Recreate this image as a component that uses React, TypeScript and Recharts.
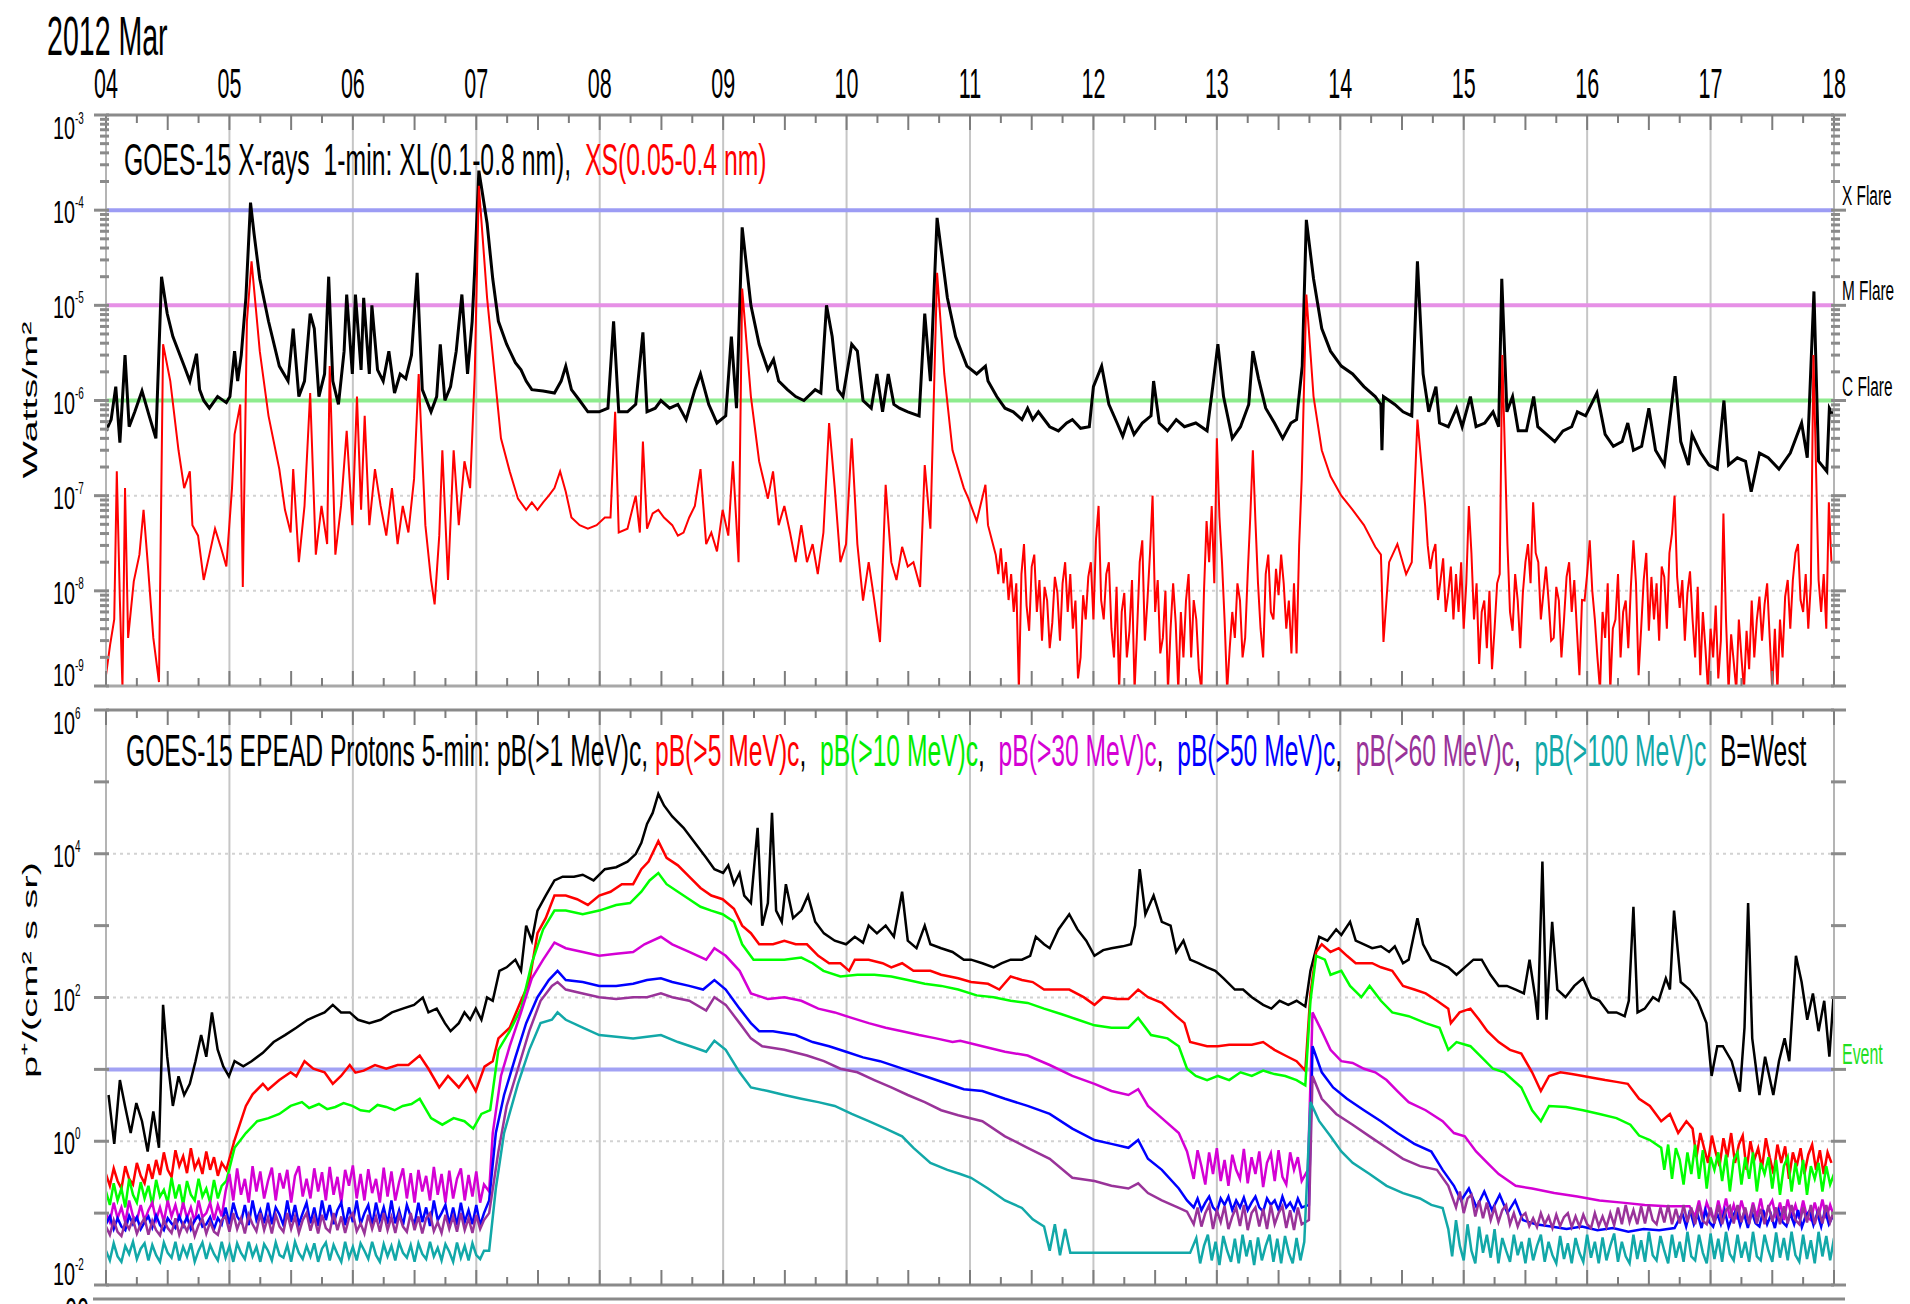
import React from "react";
import { LineChart, Line, XAxis, YAxis, ReferenceLine } from "recharts";

// hours since 2012-03-04 00:00 UT
const dayLabels = ["04", "05", "06", "07", "08", "09", "10", "11", "12", "13", "14", "15", "16", "17", "18"];

// evenly sampled stretch of readings: [start hour, step in hours, values]
const run = (start: number, step: number, values: number[]) =>
  values.map((v, i) => [+(start + i * step).toFixed(2), v]);

// GOES-15 X-ray flux, W/m^2  [hour, value]
const xlLong: number[][] = [
  [0, 4.8e-7], [1, 6.3e-7], [1.9, 1.4e-6], [2.7, 3.6e-7], [3.7, 3.0e-6], [4.5, 5.3e-7], [5.6, 7.6e-7], [7, 1.26e-6], [8.4, 6.9e-7], [9.7, 4.0e-7],
  [10.8, 2.0e-5], [11.9, 8.2e-6], [13, 4.7e-6], [15.2, 2.3e-6], [16.3, 1.6e-6], [17.6, 3.1e-6], [18.2, 1.3e-6], [19, 1.0e-6], [20.1, 8.3e-7], [21.7, 1.1e-6],
  [23.4, 9.5e-7], [24.1, 1.1e-6], [25, 3.3e-6], [25.6, 1.6e-6], [26.3, 3.0e-6], [27.2, 1.2e-5], [28.1, 1.2e-4], [28.8, 5.6e-5], [29.9, 1.9e-5], [31.6, 6.8e-6],
  [33.7, 2.3e-6], [35.4, 1.6e-6], [36.4, 5.7e-6], [37.5, 1.1e-6], [38.6, 1.6e-6], [39.7, 8.2e-6], [40.5, 5.7e-6], [41.4, 1.1e-6], [42.5, 1.9e-6], [43.3, 2.0e-5],
  [44.1, 1.6e-6], [45.2, 9.1e-7], [46.3, 3.3e-6], [46.8, 1.3e-5], [47.9, 1.9e-6], [48.5, 1.3e-5], [49.6, 2.1e-6], [50.1, 1.2e-5], [51.2, 1.9e-6], [51.7, 1.0e-5],
  [52.8, 2.1e-6], [53.9, 1.6e-6], [55, 3.3e-6], [56.1, 1.2e-6], [57.2, 1.9e-6], [58.3, 1.7e-6], [59.4, 3.0e-6], [60.5, 2.2e-5], [61.5, 1.3e-6], [63.2, 7.6e-7],
  [64.3, 1.1e-6], [65, 3.9e-6], [65.9, 1.0e-6], [67, 1.4e-6], [68.1, 3.3e-6], [69.2, 1.3e-5], [70.3, 1.9e-6], [71.2, 6.8e-6], [71.7, 2.4e-5], [72.5, 2.6e-4],
  [73.2, 1.5e-4], [74.1, 7.3e-5], [75.2, 1.9e-5], [76.3, 6.8e-6], [77.9, 3.9e-6], [79.6, 2.5e-6], [80.7, 2.1e-6], [81.7, 1.6e-6], [82.8, 1.3e-6], [85, 1.26e-6],
  [87.2, 1.2e-6], [88.5, 1.6e-6], [89.4, 2.3e-6], [90.5, 1.3e-6], [92.1, 1.0e-6], [93.7, 7.6e-7], [95.9, 7.6e-7], [97.6, 8.3e-7], [98.7, 6.8e-6], [99.7, 7.6e-7],
  [101.4, 7.6e-7], [103, 9.1e-7], [104.4, 5.2e-6], [105.2, 7.6e-7], [106.8, 8.3e-7], [107.9, 1.0e-6], [109.6, 8.3e-7], [111.2, 9.1e-7], [112.8, 6.3e-7], [114.5, 1.3e-6],
  [115.6, 1.9e-6], [117.2, 9.1e-7], [118.8, 5.8e-7], [120.5, 6.9e-7], [121.6, 4.7e-6], [122.6, 8.3e-7], [123.7, 6.6e-5], [125.4, 1.0e-5], [127, 3.9e-6], [128.7, 2.1e-6],
  [129.8, 2.7e-6], [130.8, 1.6e-6], [132.5, 1.3e-6], [134.1, 1.1e-6], [135.7, 1.0e-6], [137.9, 1.3e-6], [139, 1.2e-6], [140.1, 1.0e-5], [141.2, 4.7e-6], [142.3, 1.3e-6],
  [143.3, 1.1e-6], [145, 3.9e-6], [146.1, 3.3e-6], [147.2, 1.0e-6], [148.8, 8.3e-7], [149.9, 1.9e-6], [151, 7.6e-7], [152.1, 1.9e-6], [153.2, 9.1e-7], [154.3, 8.3e-7],
  [155.9, 7.6e-7], [158.1, 6.9e-7], [159.2, 8.2e-6], [160.3, 1.6e-6], [161.6, 8.3e-5], [163.6, 1.2e-5], [165.2, 4.7e-6], [167.4, 2.3e-6], [169.3, 1.9e-6], [171, 2.3e-6],
  [171.5, 1.6e-6], [173.2, 1.1e-6], [174.8, 8.3e-7], [176.4, 7.6e-7], [178.1, 6.3e-7], [179.2, 8.3e-7], [180.2, 6.3e-7], [181.3, 7.6e-7], [183.5, 5.3e-7], [185.2, 4.8e-7],
  [186.8, 5.8e-7], [187.9, 6.3e-7], [189.5, 5.1e-7], [191.2, 5.3e-7], [192, 1.4e-6], [193.6, 2.3e-6], [195, 9.1e-7], [196.6, 5.8e-7], [197.7, 4.2e-7], [198.8, 6.3e-7],
  [199.9, 4.4e-7], [201.5, 5.8e-7], [203.2, 6.9e-7], [203.7, 1.6e-6], [204.8, 5.8e-7], [206.4, 4.8e-7], [208.1, 6.3e-7], [209.7, 5.3e-7], [211.9, 5.8e-7], [214.1, 4.8e-7],
  [215.2, 1.4e-6], [216.2, 3.9e-6], [217.3, 1.1e-6], [219, 4.0e-7], [220.6, 5.3e-7], [222.2, 9.1e-7], [223, 3.3e-6], [224.1, 1.7e-6], [225.5, 8.3e-7], [227.2, 5.8e-7],
  [228.8, 4.0e-7], [230.4, 5.8e-7], [231.5, 6.3e-7], [232.6, 2.3e-6], [233.4, 7.9e-5], [234.8, 1.9e-5], [236.4, 5.7e-6], [238.1, 3.3e-6], [240.2, 2.3e-6], [242.4, 1.9e-6],
  [244.6, 1.4e-6], [246.8, 1.1e-6], [247.9, 9.1e-7], [248.1, 3.0e-7], [248.4, 1.1e-6], [250.6, 9.1e-7], [252.2, 7.6e-7], [253.9, 6.9e-7], [255, 2.9e-5], [256.1, 1.9e-6],
  [257.2, 7.6e-7], [258.6, 1.4e-6], [259.3, 5.8e-7], [261, 5.3e-7], [262.6, 8.3e-7], [263.7, 5.3e-7], [265.3, 1.1e-6], [266.4, 5.3e-7], [268.1, 5.8e-7], [269.7, 7.6e-7],
  [270.8, 5.3e-7], [271.4, 1.9e-5], [272.4, 7.6e-7], [273.5, 1.1e-6], [274.6, 4.8e-7], [276.2, 4.8e-7], [277.6, 1.1e-6], [278.4, 5.3e-7], [280.1, 4.4e-7], [281.7, 3.7e-7],
  [283.3, 4.8e-7], [285, 5.3e-7], [286.1, 7.6e-7], [287.7, 6.9e-7], [289.9, 1.2e-6], [291.5, 4.4e-7], [293.1, 3.3e-7], [294.8, 3.7e-7], [295.9, 5.8e-7], [297, 3.0e-7],
  [298.6, 3.3e-7], [300, 8.3e-7], [301.3, 3.0e-7], [303, 2.1e-7], [305.1, 1.8e-6], [306.2, 3.7e-7], [307.7, 2.1e-7], [308.4, 4.4e-7], [310.1, 2.8e-7], [311.7, 2.1e-7],
  [313.3, 1.9e-7], [314.6, 1.0e-6], [315.5, 2.1e-7], [317.2, 2.5e-7], [318.8, 2.3e-7], [319.9, 1.1e-7], [321.5, 2.8e-7], [323.2, 2.5e-7], [325.3, 1.9e-7], [327.5, 2.8e-7],
  [329.7, 5.8e-7], [330.8, 2.5e-7], [332.1, 1.4e-5], [333, 2.3e-7], [334.6, 1.8e-7], [335.1, 8.3e-7], [335.9, 6.9e-7],
];

const xsShort: number[][] = [
  [0, 1.3e-9], [0.8, 2.7e-9], [1.6, 5.0e-9], [2.1, 1.8e-7], [2.7, 7.9e-9], [3.2, 9.7e-10], [3.7, 1.2e-7], [4.3, 3.2e-9], [5.4, 1.26e-8], [6.5, 2.4e-8],
  [7.3, 7.1e-8], [8.1, 2.0e-8], [9.2, 3.2e-9], [10.3, 1.1e-9], [11.1, 3.9e-6], [12.5, 1.6e-6], [14.1, 3.0e-7], [15.2, 1.2e-7], [16.3, 1.8e-7], [16.8, 4.9e-8],
  [17.9, 3.8e-8], [19, 1.3e-8], [20.1, 2.4e-8], [21.2, 4.5e-8], [22.3, 2.9e-8], [23.4, 1.8e-8], [24.5, 1.2e-7], [25, 4.4e-7], [26.1, 9.1e-7], [26.6, 1.1e-8],
  [27.4, 6.8e-6], [28.3, 2.9e-5], [29.9, 3.3e-6], [31.6, 6.9e-7], [33.7, 1.9e-7], [34.8, 7.1e-8], [35.9, 4.1e-8], [36.4, 1.9e-7], [37.5, 2.0e-8], [38.6, 7.8e-8],
  [39.7, 1.2e-6], [40.8, 2.4e-8], [41.9, 7.8e-8], [43, 3.1e-8], [43.5, 2.3e-6], [44.6, 2.4e-8], [45.7, 7.8e-8], [46.8, 4.8e-7], [47.9, 4.9e-8], [48.8, 1.1e-6],
  [49.6, 7.1e-8], [50.3, 6.9e-7], [51.2, 4.9e-8], [52.3, 1.9e-7], [53.4, 7.8e-8], [54.5, 3.8e-8], [55.6, 1.2e-7], [56.7, 3.1e-8], [57.7, 7.8e-8], [58.8, 4.1e-8],
  [59.9, 1.5e-7], [60.8, 1.9e-6], [62.1, 4.9e-8], [63.2, 1.3e-8], [63.9, 7.2e-9], [64.8, 3.8e-8], [65.4, 3.0e-7], [66.5, 1.3e-8], [67.6, 3.0e-7], [68.6, 4.9e-8],
  [69.7, 2.3e-7], [70.8, 1.2e-7], [71.7, 1.9e-6], [72.5, 1.8e-4], [74.1, 1.2e-5], [75.2, 3.0e-6], [76.8, 4.0e-7], [78.5, 1.8e-7], [80.1, 9.3e-8], [81.7, 7.1e-8],
  [82.8, 8.5e-8], [83.9, 7.1e-8], [85, 8.5e-8], [86.1, 1.0e-7], [87.2, 1.2e-7], [88.3, 1.8e-7], [89.4, 1.1e-7], [90.5, 5.9e-8], [92.1, 4.9e-8], [93.7, 4.5e-8],
  [95.4, 4.9e-8], [97, 5.9e-8], [98.1, 5.9e-8], [99, 7.6e-7], [99.7, 4.1e-8], [101.4, 4.5e-8], [103, 1.0e-7], [103.8, 4.1e-8], [104.4, 3.7e-7], [105.2, 4.5e-8],
  [106.3, 6.5e-8], [107.4, 7.1e-8], [108.5, 5.9e-8], [110.1, 4.9e-8], [111.2, 3.8e-8], [112.3, 4.1e-8], [113.4, 5.9e-8], [114.5, 7.8e-8], [115.6, 1.9e-7], [116.7, 3.1e-8],
  [117.7, 4.1e-8], [118.8, 2.6e-8], [119.9, 7.1e-8], [121, 3.8e-8], [121.9, 2.3e-7], [123, 2.0e-8], [123.7, 1.5e-5], [125.4, 1.1e-6], [127, 2.3e-7], [128.7, 9.3e-8],
  [129.7, 1.8e-7], [130.8, 4.9e-8], [131.9, 7.8e-8], [133, 4.1e-8], [134.1, 2.0e-8], [135.2, 4.9e-8], [136.3, 2.0e-8], [137.4, 3.1e-8], [138.4, 1.5e-8], [139.5, 4.1e-8],
  [140.6, 5.8e-7], [141.7, 1.2e-7], [142.8, 2.0e-8], [143.9, 3.1e-8], [145, 4.0e-7], [146.1, 3.1e-8], [147.2, 7.9e-9], [148.3, 2.0e-8], [149.4, 7.9e-9], [150.5, 2.9e-9],
  [151.6, 1.3e-7], [152.7, 2.0e-8], [153.7, 1.3e-8], [154.8, 2.9e-8], [155.9, 1.8e-8], [157, 2.0e-8], [158.3, 1.1e-8], [159.2, 2.1e-7], [160.3, 4.5e-8], [161.6, 2.2e-5],
  [163, 1.9e-6], [164.6, 3.0e-7], [166.8, 1.2e-7], [167.7, 9.3e-8], [169.3, 5.4e-8], [171, 1.3e-7], [171.5, 4.9e-8],
  ...run(173, 0.5, [
    2.4e-8, 1.5e-8, 2.8e-8, 1.2e-8, 2.0e-8, 8e-9, 1.5e-8, 6e-9, 1.2e-8, 9e-10,
    1.5e-8, 3.1e-8, 7e-9, 3.8e-9, 1.8e-8, 2.4e-8, 6e-9, 1.3e-8, 3e-9, 1.1e-8,
    7.9e-9, 2.5e-9, 4.6e-9, 1.4e-8, 9.5e-9, 3e-9, 1.2e-8, 2.0e-8, 6e-9, 1.5e-8,
    4e-9, 7.9e-9, 1.2e-9, 2.0e-9, 9e-9, 5.0e-9, 1.4e-8, 2.0e-8, 5e-9, 3.5e-8,
    7.8e-8, 8e-9, 5.0e-9, 1.5e-8, 2.0e-8, 4e-9, 2.0e-9, 1.1e-8, 9e-10, 6e-9,
    9.5e-9, 2e-9, 3.8e-9, 1.3e-8, 9e-10, 4e-9, 2.0e-8, 3.4e-8, 3e-9, 7.9e-9,
    2.5e-8, 1.0e-7, 6e-9, 1.3e-8, 2.2e-9, 3.2e-9, 1.0e-8, 9e-10, 4e-9, 1.2e-8,
    4.6e-9, 9e-10, 6e-9, 2e-9, 7.9e-9, 1.5e-8, 2.0e-9, 8e-9, 5.0e-9, 1.5e-9,
    9e-10, 1e-8, 5.4e-8, 2e-8, 7.8e-8, 1.2e-8, 4.0e-7, 6e-8, 2.0e-8, 5e-9,
    9e-10, 2.5e-9, 6e-9, 3.2e-9, 1.2e-8, 7.9e-9, 2e-9, 3.2e-9, 1.5e-8, 6e-8,
    3.0e-7, 5.4e-8, 1.2e-8, 4e-9, 2.0e-9, 1.5e-8, 2.4e-8, 6e-9, 5.0e-9, 1.7e-8,
    9e-9, 2.4e-8, 1.2e-8, 4e-9, 7.9e-9, 2.2e-9, 1.2e-8, 2.2e-9, 3e-8, 1.5e-7,
  ]),
  [233.4, 1.3e-5], [234.8, 1.1e-6], [236.4, 3.0e-7], [238.1, 1.6e-7], [240.2, 1.0e-7], [242.4, 7.1e-8], [244.6, 4.9e-8], [246.8, 2.9e-8], [247.9, 2.4e-8], [248.4, 2.9e-9],
  [249.5, 2.0e-8], [251.1, 3.1e-8], [252.8, 1.5e-8], [253.9, 2.0e-8], [255, 6.3e-7],
  ...run(256.5, 0.5, [
    7.8e-8, 3e-8, 1.7e-8, 2.5e-8, 3.1e-8, 8e-9, 1.3e-8, 2.2e-8, 6e-9, 9.5e-9,
    1.8e-8, 5e-9, 1.5e-8, 6.0e-9, 2.0e-8, 4e-9, 1.2e-8, 7.8e-8, 2.5e-8, 5.0e-9,
    1.2e-8, 1.7e-9, 6e-9, 7.9e-9, 2.5e-9, 1.0e-8, 1.5e-9, 4e-9, 1.2e-8, 1.5e-8,
    3.0e-6, 3e-7, 3.1e-8, 6e-9, 3.8e-9, 1.5e-8, 7.9e-9, 2.5e-9, 9.5e-9, 2e-8,
    3.1e-8, 1.2e-8, 8.5e-8, 2.5e-8, 2.0e-8, 5e-9, 9.5e-9, 1.8e-8, 7.9e-9, 3e-9,
    3.2e-9, 1.1e-8, 7.9e-9, 2e-9, 5.0e-9, 1.4e-8, 2.0e-8, 6e-9, 1.3e-8, 4e-9,
    1.3e-9, 8e-9, 7.9e-9, 1.5e-8, 3.4e-8, 1e-8, 5.0e-9, 2e-9, 9e-10, 6e-9,
    3.2e-9, 1.2e-8, 9e-10, 4e-9, 5.0e-9, 1.5e-8, 2.0e-9, 6e-9, 7.9e-9, 2.5e-9,
    1.1e-8, 3.4e-8, 1.2e-8, 1.3e-9, 4e-9, 1.3e-8, 2.5e-8, 3.8e-9, 1.4e-8, 5e-9,
    1.2e-8, 3e-9, 1.8e-8, 1.4e-8, 4e-9, 2.5e-8, 4e-8, 1.0e-7, 1.4e-8, 6.6e-9,
    1.3e-8, 3e-9, 9.5e-9, 1.6e-8, 5.0e-9, 2e-9, 1.1e-8, 1.3e-9, 6e-9, 2.5e-9,
    9e-10, 4e-9, 2.0e-9, 7e-9, 1.2e-9, 3e-9, 6.5e-8, 5e-9, 9e-10, 3.5e-9,
    1.8e-9, 9e-10, 5e-9, 2.0e-9, 9e-10, 3.8e-9, 1.5e-9, 7.9e-9, 2e-9, 5e-9,
    8.7e-9, 3e-9, 7.2e-9, 1.2e-8, 3.2e-9, 9e-10, 4e-9, 9e-10, 5.0e-9, 2e-9,
    8.7e-9, 1.3e-8, 4e-9, 1.3e-8, 2.5e-8, 3.1e-8, 8e-9, 6.0e-9, 1.5e-8, 4e-9,
    1.2e-8, 3.0e-6, 2e-7, 1.3e-8, 6.0e-9, 1.5e-8, 4e-9, 8.5e-8, 2.0e-8,
  ]),
];

// GOES-15 EPEAD integral protons, p+/(cm^2 s sr)  [hour, value]
const pGt1: number[][] = [
  [0.5, 4.4], [1.6, 0.92], [2.7, 7.1], [3.7, 3.1], [4.8, 1.3], [5.9, 3.4], [7, 1.9], [8.1, 0.72], [9.2, 2.6], [10.3, 0.81],
  [11.1, 79], [11.9, 15], [13, 3.1], [14.1, 8.0], [15.2, 4.4], [16.3, 6.3], [17.4, 13], [18.5, 30], [19.5, 15], [20.6, 62],
  [21.7, 19], [22.8, 11], [23.9, 8.0], [25, 13], [26.7, 11], [28.3, 13], [30.5, 17], [32.6, 24], [34.8, 30], [37, 38],
  [39.2, 49], [40.8, 55], [42.5, 62], [44.1, 79], [45.7, 62], [47.4, 62], [49, 49], [51.2, 44], [53.4, 49], [55.6, 62],
  [57.7, 70], [59.9, 79], [61.6, 100], [62.7, 62], [64.3, 70], [65.9, 44], [67, 34], [68.6, 44], [69.7, 62], [70.8, 49],
  [71.9, 70], [73, 49], [74.1, 100], [75.2, 90], [76.5, 235], [77.9, 263], [79.6, 336], [80.7, 235], [81.7, 1000], [82.8, 617],
  [83.9, 1620], [85.5, 2620], [87.2, 4250], [88.8, 4790], [91, 4790], [92.7, 5100], [94.8, 4250], [97, 6100], [99.2, 6500], [101.4, 7770],
  [103, 9900], [104.1, 1.42e4], [105.2, 2.6e4], [106.3, 3.7e4], [107.4, 6.8e4], [108.5, 4.7e4], [110.1, 3.3e4], [112.3, 2.3e4], [114.5, 1.42e4], [116.7, 8800],
  [118.3, 6100], [120, 5400], [121, 6900], [122.1, 3770], [123.2, 5400], [124.1, 2620], [125.4, 2060], [126.7, 2.3e4], [127.6, 1000], [128.7, 2060],
  [129.5, 3.7e4], [130.3, 1620], [131.4, 1130], [132.2, 3770], [133.6, 1270], [135.2, 1620], [136.5, 2620], [137.9, 1130], [139.6, 780], [141.7, 617],
  [143.9, 550], [145.6, 700], [147.2, 580], [148.3, 1000], [149.9, 780], [151.6, 1000], [153.2, 700], [154.8, 2960], [155.9, 617], [157.6, 485],
  [159.2, 1000], [160.3, 550], [162.4, 485], [164.6, 430], [166.8, 336], [168.2, 336], [170.4, 300], [172.6, 263], [174.2, 300], [175.9, 336],
  [178.1, 336], [179.7, 380], [180.8, 700], [182.4, 550], [183.5, 485], [185.2, 885], [187.3, 1440], [188.9, 885], [190.6, 617], [192.2, 380],
  [193.9, 456], [195.5, 485], [197.7, 515], [199.3, 550], [200.1, 1000], [201, 6100], [202.1, 1440], [203.7, 2620], [205.3, 1130], [207, 1000],
  [208.1, 430], [209.5, 617], [210.8, 336], [212.4, 300], [214.1, 263], [215.7, 235], [217.3, 185], [219.5, 129], [221.1, 129], [222.8, 101],
  [225, 79], [226.6, 70], [228.2, 90], [229.9, 79], [231.5, 90], [233.2, 75], [234.2, 235], [235.9, 700], [237.5, 617], [239.2, 885],
  [240.2, 740], [241.9, 1130], [243, 617], [244.6, 550], [246.2, 485], [247.9, 515], [249.5, 430], [250.6, 515], [252.2, 300], [253.3, 336],
  [255, 1270], [256.1, 550], [257.7, 336], [259.3, 300], [261, 263], [262.6, 207], [264.2, 263], [265.9, 336], [267.5, 336], [269.2, 207],
  [270.8, 145], [272.4, 145], [274.1, 129], [275.7, 114], [276.8, 336], [277.9, 101], [278.4, 49], [279.3, 7770], [280.1, 49], [281.2, 1130],
  [282.2, 129], [283.8, 101], [285.5, 145], [287.2, 185], [288.8, 101], [290.4, 90], [292.1, 62], [293.7, 62], [295.3, 55], [296.1, 90],
  [297, 1830], [297.8, 62], [299.2, 70], [300.8, 101], [301.9, 90], [303.3, 185], [304.1, 129], [304.9, 1620], [306.2, 164], [307.9, 129],
  [309.5, 90], [311.2, 44], [312.2, 8.1], [313.3, 21], [314.4, 21], [316.1, 13], [317.7, 4.9], [318.6, 38], [319.3, 2060], [320.1, 27],
  [321.5, 4.4], [322.6, 15], [324.2, 4.4], [325.3, 13], [326.4, 27], [327.3, 13], [328.6, 380], [329.7, 164], [330.8, 49], [331.9, 114],
  [333, 34], [334.1, 90], [335.1, 15], [335.9, 101],
];

const pGt5: number[][] = [
  ...run(0, 0.75, [
    0.35, 0.24, 0.42, 0.28, 0.22, 0.45, 0.3, 0.25, 0.5, 0.33, 0.26, 0.48, 0.3, 0.55, 0.34, 0.7,
    0.4, 0.32, 0.75, 0.45, 0.62, 0.36, 0.8, 0.42, 0.55, 0.35, 0.72, 0.4, 0.6, 0.33, 0.5,
  ]),
  [23.4, 0.4], [25, 1.04], [27.2, 3.1], [28.5, 4.5],
  [30.5, 6.3], [31.5, 5.2], [33.7, 7.1], [35.9, 9.1], [37, 8.0], [38.6, 13], [40.3, 10.2], [42.5, 9.1], [44.1, 6.3], [45.7, 8.1],
  [47.4, 11.5], [48.5, 9.0], [50.1, 9.6], [52.3, 11.5], [54.5, 10.2], [56.7, 11.5], [58.8, 11.5], [61, 15.6], [62.7, 10.2], [64.8, 5.6],
  [66.5, 8.1], [68.6, 5.6], [70.3, 8.1], [71.9, 5.0], [73.6, 10.9], [75.2, 13], [76.3, 27], [78.5, 38], [80.7, 90], [82.3, 164],
  [83.9, 785], [85.5, 1270], [87.2, 2620], [89.4, 2620], [91.6, 2330], [93.7, 1940], [95.9, 2620], [98.1, 2960], [100.3, 3770], [102.5, 3770],
  [104.1, 6100], [105.5, 7770], [107.4, 1.5e4], [109, 8760], [111.2, 6900], [113.4, 4790], [115.6, 3340], [117.7, 2620], [119.9, 2330], [122.1, 1720],
  [123.7, 1000], [125.4, 785], [127, 550], [129.7, 550], [131.9, 617], [134.1, 550], [136.3, 550], [138.5, 380], [140.6, 300], [142.8, 300],
  [144.5, 235], [145.6, 336], [148.3, 336], [151, 300], [152.7, 263], [154.8, 300], [157, 235], [160.3, 235], [162.4, 207], [165.7, 185],
  [168.2, 164], [171.5, 155], [173.7, 129], [175.9, 196], [178.1, 175], [180.2, 164], [182.4, 129], [185.2, 129], [187.3, 129], [190.1, 101],
  [192.2, 79], [193.9, 101], [196.6, 95], [198.8, 95], [200.7, 129], [202.6, 101], [205.3, 84], [208.1, 55], [209.7, 44], [210.8, 24],
  [214.1, 21], [216.2, 21], [218.4, 22], [220.6, 22], [222.8, 22], [225, 24], [227.2, 18.7], [229.3, 15.6], [231.5, 13], [233.2, 9.6],
  [234.2, 114], [235.3, 430], [236.4, 550], [238.1, 430], [239.7, 485], [241.3, 380], [243, 300], [244.6, 300], [246.2, 300], [247.9, 263],
  [250.1, 235], [252.2, 145], [254.4, 129], [256.6, 114], [258.8, 90], [261, 70], [261.5, 44], [263.2, 62], [265.3, 70], [267, 49],
  [268.6, 34], [270.8, 24], [273, 18.7], [275.2, 16.6], [277.3, 9.1], [279, 5.0], [280.6, 8.1], [282.8, 9.1], [285, 8.6], [287.2, 8.1],
  [289.3, 7.6], [291.5, 7.1], [293.7, 6.7], [295.9, 6.3], [298.1, 3.9], [300.2, 3.1], [302.4, 1.9], [304.1, 2.4], [305.7, 1.3], [307.3, 1.9],
  ...run(308.5, 0.75, [
    1.5, 0.6, 1.3, 0.8, 0.5, 1.2, 0.7, 0.45, 1.1, 0.6, 1.3, 0.5, 0.9, 1.2, 0.4, 1.0, 0.55, 0.8, 0.42,
    1.1, 0.6, 0.35, 0.9, 0.5, 0.85, 0.3, 0.7, 0.45, 0.8, 0.35, 0.65, 0.9, 0.4, 0.75, 0.35, 0.7, 0.5,
  ]),
];

const pGt10: number[][] = [
  ...run(0, 0.75, [
    0.2, 0.13, 0.26, 0.15, 0.22, 0.12, 0.3, 0.18, 0.14, 0.27, 0.16, 0.24, 0.13, 0.29, 0.17, 0.21,
    0.14, 0.31, 0.16, 0.25, 0.13, 0.28, 0.18, 0.15, 0.3, 0.17, 0.22, 0.14, 0.29, 0.16, 0.24,
  ]),
  [23.4, 0.28], [25, 0.81], [27.2, 1.3], [29.4, 1.9],
  [31.6, 2.1], [33.7, 2.4], [35.9, 3.1], [38.1, 3.5], [39.5, 2.9], [41.4, 3.3], [43, 2.8], [44.6, 3.0], [46.2, 3.4], [47.9, 3.1],
  [49.5, 2.7], [51.2, 2.6], [52.8, 3.2], [54.5, 3.0], [56.1, 2.7], [57.7, 3.1], [59.4, 3.3], [61, 3.9], [63.2, 2.1], [65.4, 1.7],
  [67.6, 2.1], [69.7, 1.9], [71.4, 1.5], [73, 2.4], [74.7, 2.7], [76.3, 18.7], [78.5, 34], [80.7, 70], [82.8, 300], [85, 885],
  [87.2, 1620], [89.4, 1620], [92.7, 1440], [95.9, 1620], [99.2, 1940], [101.9, 2060], [104.1, 2960], [105.7, 4250], [107.4, 5400], [109, 3770],
  [111.2, 2960], [113.4, 2330], [115.6, 1830], [117.7, 1620], [119.9, 1440], [122.1, 1130], [123.7, 550], [125.9, 336], [128.7, 336], [131.9, 336],
  [135.2, 360], [137.4, 300], [139.5, 235], [142.8, 196], [146.1, 207], [149.4, 207], [152.7, 196], [155.9, 175], [159.2, 155], [162.4, 145],
  [165.7, 129], [169.3, 107], [172.6, 101], [175.9, 90], [179.2, 84], [182.4, 70], [185.7, 59], [189, 49], [192.2, 41], [195.5, 38],
  [198.8, 38], [200.7, 52], [203.2, 30], [206.4, 27], [208.6, 21], [210.2, 10.2], [211.9, 8.1], [214.1, 7.1], [216.2, 8.1], [218.4, 7.1],
  [220.6, 9.1], [222.8, 8.1], [225, 9.6], [227.2, 8.6], [229.3, 8.1], [231.5, 7.1], [233.2, 6.0], [234.2, 90], [235.3, 380], [237, 336],
  [238.1, 207], [240.2, 235], [241.9, 145], [244.1, 101], [245.7, 145], [247.9, 90], [250.1, 62], [253.3, 55], [256.6, 44], [259.3, 38],
  [261, 18.7], [262.6, 24], [265.3, 21], [267.5, 14.7], [269.7, 10.2], [271.9, 9.1], [275.2, 5.6], [277.3, 2.7], [279, 1.9], [280.6, 3.1],
  [283.9, 3.0], [287.2, 2.7], [290.4, 2.4], [293.7, 2.1], [296.4, 1.7], [298.1, 1.2], [300.2, 1.04], [302.4, 0.81],
  ...run(303, 0.75, [
    0.4, 0.9, 0.3, 0.8, 0.55, 0.25, 0.7, 0.35, 0.9, 0.3, 0.75, 0.22, 0.6, 0.4, 0.7, 0.28, 0.65, 0.2, 0.55, 0.7,
    0.25, 0.6, 0.3, 0.7, 0.2, 0.5, 0.35, 0.6, 0.22, 0.55, 0.18, 0.45, 0.6, 0.2, 0.5, 0.25, 0.55, 0.18, 0.45, 0.3,
    0.5, 0.2, 0.45, 0.25, 0.35,
  ]),
];

const pGt30: number[][] = [
  ...run(0, 0.75, [
    0.1, 0.075, 0.14, 0.085, 0.12, 0.074, 0.15, 0.09, 0.08, 0.13, 0.078, 0.11, 0.14, 0.08, 0.12, 0.076,
    0.15, 0.09, 0.13, 0.079, 0.14, 0.085, 0.12, 0.075, 0.15, 0.088, 0.1, 0.14, 0.08, 0.13, 0.09,
    0.2, 0.35, 0.15, 0.42, 0.18, 0.3, 0.14, 0.45, 0.2, 0.38, 0.16, 0.28, 0.43, 0.15, 0.36, 0.22, 0.4,
    0.14, 0.33, 0.45, 0.17, 0.3, 0.16, 0.42, 0.2, 0.37, 0.15, 0.44, 0.18, 0.32, 0.14, 0.4, 0.24, 0.46,
    0.16, 0.35, 0.15, 0.41, 0.19, 0.3, 0.14, 0.43, 0.17, 0.38, 0.15, 0.27, 0.42, 0.16, 0.36, 0.14, 0.4,
    0.2, 0.33, 0.15, 0.44, 0.18, 0.35, 0.14, 0.39, 0.16, 0.3, 0.42, 0.15, 0.34, 0.17, 0.38, 0.14, 0.25,
  ]),
  [74.5, 0.2], [75.2, 1.3], [76.8, 8.1], [78.5, 21], [80.7, 62], [82.8, 185], [85, 336], [87.2, 580], [89.4, 485], [92.7, 430],
  [95.9, 380], [99.2, 405], [102.5, 430], [104.7, 550], [107.9, 700], [110.1, 550], [113.4, 430], [116.7, 336], [118.3, 485], [120.5, 380],
  [123.2, 235], [125.4, 114], [128.7, 95], [131.9, 101], [135.2, 90], [138.5, 70], [141.7, 62], [145, 52], [148.3, 44], [151.6, 38],
  [154.8, 34], [158.1, 30], [161.4, 27], [164.6, 24], [166.1, 25], [170.4, 21], [174.8, 17.6], [179.2, 15.6], [183.5, 11.5], [187.9, 8.1],
  [192.2, 6.3], [195.5, 5.0], [198.8, 4.4], [200.7, 5.3], [202.6, 3.1], [205.3, 2.1], [208.6, 1.3], [210.2, 0.72],
  ...run(211.5, 0.75, [
    0.3, 0.75, 0.45, 0.25, 0.7, 0.35, 0.8, 0.28, 0.55, 0.24, 0.65, 0.4, 0.3, 0.78, 0.26,
    0.6, 0.35, 0.72, 0.23, 0.5, 0.68, 0.28, 0.75, 0.32, 0.25, 0.7, 0.4, 0.6, 0.28,
  ]),
  [233.7, 0.4], [234.6, 62], [236.4, 34], [238.1, 18.7], [240.2, 13], [242.4, 12.3], [244.6, 10.2],
  [246.8, 9.1], [249, 7.1], [251.1, 5.0], [253.3, 3.5], [256.6, 2.7], [259.9, 1.9], [262.1, 1.3], [264.2, 1.17], [266.4, 0.72], [268.6, 0.5],
  [270.8, 0.35], [274.1, 0.24], [277.3, 0.22], [281.6, 0.19], [286.1, 0.17], [290.4, 0.15], [294.8, 0.14], [299.2, 0.13], [303.5, 0.125], [307.9, 0.125],
  ...run(309, 0.75, [
    0.09, 0.15, 0.085, 0.14, 0.1, 0.08, 0.15, 0.09, 0.16, 0.085, 0.13, 0.082, 0.15, 0.095, 0.08, 0.14, 0.088, 0.16, 0.082,
    0.12, 0.15, 0.085, 0.14, 0.08, 0.155, 0.09, 0.13, 0.083, 0.15, 0.088, 0.08, 0.14, 0.09, 0.155, 0.085, 0.13, 0.09,
  ]),
];

const pGt50: number[][] = [
  ...run(0, 0.75, [
    0.07, 0.09, 0.06, 0.085, 0.065, 0.058, 0.092, 0.07, 0.088, 0.06, 0.075, 0.09, 0.063, 0.093, 0.068, 0.058,
    0.085, 0.072, 0.062, 0.09, 0.066, 0.088, 0.06, 0.08, 0.092, 0.065, 0.07, 0.088, 0.06, 0.085, 0.07,
    0.12, 0.07, 0.14, 0.09, 0.075, 0.13, 0.068, 0.15, 0.08, 0.11, 0.072, 0.14, 0.07, 0.12, 0.095, 0.068, 0.15,
    0.075, 0.13, 0.07, 0.1, 0.14, 0.072, 0.12, 0.066, 0.15, 0.08, 0.13, 0.07, 0.11, 0.14, 0.068, 0.12, 0.075,
    0.15, 0.07, 0.1, 0.13, 0.068, 0.14, 0.08, 0.12, 0.07, 0.15, 0.072, 0.11, 0.068, 0.13, 0.09, 0.07, 0.14,
    0.075, 0.12, 0.066, 0.15, 0.08, 0.1, 0.13, 0.07, 0.12, 0.068, 0.14, 0.075, 0.11, 0.07, 0.13, 0.068, 0.1,
  ]),
  [74.5, 0.15], [75.8, 1.3], [77.4, 4.4], [79.6, 14.7], [81.7, 44], [83.9, 101], [86.1, 175], [87.8, 235], [89.4, 175], [92.7, 164],
  [95.9, 145], [99.2, 145], [102.5, 155], [105.2, 175], [107.9, 185], [110.1, 164], [113.4, 145], [116.1, 129], [118.3, 175], [120.5, 129],
  [123.2, 70], [125.4, 44], [127, 34], [129.7, 34], [134.1, 30], [137.4, 24], [140.6, 21], [143.9, 17.6], [147.2, 14.7], [150.5, 13],
  [153.7, 10.9], [157, 9.1], [160.3, 7.6], [163.6, 6.3], [166.8, 5.3], [170.4, 5.0], [174.8, 3.9], [179.2, 3.1], [183.5, 2.4], [187.9, 1.5],
  [192.2, 1.04], [195.5, 0.92], [198.8, 0.81], [200.7, 1.04], [202.6, 0.57], [205.3, 0.4], [208.6, 0.22], [210.2, 0.15],
  ...run(211.5, 0.75, [
    0.12, 0.16, 0.11, 0.14, 0.17, 0.12, 0.105, 0.16, 0.13, 0.17, 0.11, 0.15, 0.12, 0.165, 0.11,
    0.14, 0.17, 0.12, 0.105, 0.16, 0.13, 0.15, 0.11, 0.17, 0.12, 0.14, 0.11, 0.16, 0.12,
  ]),
  [233.9, 0.13], [234.6, 21], [236.4, 9.1], [238.6, 5.6], [241.3, 3.9], [244.6, 2.7], [247.9, 1.9],
  [251.1, 1.3], [254.4, 0.92], [257.7, 0.72], [259.9, 0.4], [262.1, 0.24], [263.5, 0.15], [265, 0.22], [266.5, 0.12], [268, 0.2], [269.5, 0.11],
  [271, 0.18], [272.5, 0.1], [274, 0.15], [275.5, 0.08], [278, 0.07], [281, 0.065], [284, 0.06], [287, 0.065], [290, 0.058], [293, 0.062],
  [296, 0.055], [299, 0.06], [302, 0.058], [305, 0.062],
  ...run(306.5, 0.75, [
    0.1, 0.065, 0.11, 0.07, 0.095, 0.062, 0.11, 0.075, 0.065, 0.1, 0.07, 0.108, 0.064, 0.09, 0.11, 0.068, 0.1, 0.062, 0.105, 0.072,
    0.065, 0.11, 0.07, 0.095, 0.062, 0.108, 0.075, 0.066, 0.1, 0.07, 0.11, 0.064, 0.092, 0.108, 0.068, 0.1, 0.065, 0.11, 0.07, 0.09,
  ]),
];

const pGt60: number[][] = [
  ...run(0, 0.75, [
    0.065, 0.05, 0.08, 0.055, 0.048, 0.075, 0.06, 0.082, 0.052, 0.07, 0.085, 0.05, 0.078, 0.058, 0.049, 0.08,
    0.062, 0.053, 0.085, 0.05, 0.072, 0.056, 0.08, 0.048, 0.068, 0.083, 0.052, 0.075, 0.055, 0.05, 0.08,
    0.09, 0.055, 0.1, 0.06, 0.085, 0.052, 0.095, 0.07, 0.056, 0.1, 0.058, 0.088, 0.052, 0.095, 0.065, 0.055, 0.1,
    0.06, 0.09, 0.053, 0.08, 0.1, 0.057, 0.088, 0.052, 0.095, 0.062, 0.055, 0.1, 0.058, 0.09, 0.053, 0.085, 0.1,
    0.056, 0.072, 0.052, 0.095, 0.06, 0.09, 0.055, 0.1, 0.058, 0.088, 0.053, 0.094, 0.065, 0.055, 0.1, 0.058, 0.09,
    0.052, 0.085, 0.1, 0.056, 0.075, 0.053, 0.095, 0.06, 0.09, 0.055, 0.1, 0.058, 0.085, 0.053, 0.094, 0.06, 0.08,
  ]),
  [74.5, 0.1], [76.3, 0.72], [77.9, 3.1], [80.1, 10.2], [82.3, 34], [84.5, 90], [86.7, 145], [87.8, 164], [89.4, 129], [92.7, 114],
  [95.9, 101], [99.2, 95], [102.5, 101], [105.2, 101], [107.9, 114], [110.1, 101], [113.4, 90], [116.7, 66], [118.3, 101], [120.5, 79],
  [123.2, 44], [125.4, 27], [127.6, 21], [131.9, 18.7], [136.3, 15.6], [139.6, 13], [142.8, 10.2], [146.1, 9.1], [149.4, 7.1], [152.7, 5.6],
  [155.9, 4.4], [159.2, 3.5], [162.4, 2.7], [165.7, 2.3], [170.4, 1.9], [174.8, 1.17], [179.2, 0.81], [183.5, 0.57], [187.9, 0.31], [192.2, 0.28],
  [195.5, 0.24], [198.8, 0.22], [200.7, 0.26], [202.6, 0.19], [205.3, 0.15], [208.6, 0.118], [210.2, 0.105],
  ...run(211.5, 0.75, [
    0.07, 0.12, 0.065, 0.1, 0.13, 0.06, 0.11, 0.075, 0.125, 0.06, 0.09, 0.12, 0.066, 0.13, 0.058,
    0.1, 0.12, 0.065, 0.115, 0.06, 0.13, 0.07, 0.1, 0.125, 0.062, 0.11, 0.058, 0.12, 0.07,
  ]),
  [233.9, 0.08], [234.6, 8.1], [236.4, 3.9], [239.2, 2.4], [242.4, 1.7], [245.7, 1.17], [249, 0.81], [252.2, 0.57],
  [255.5, 0.45], [258.8, 0.4], [261, 0.24],
  ...run(262.5, 0.75, [
    0.12, 0.2, 0.1, 0.16, 0.18, 0.09, 0.15, 0.085, 0.14, 0.08, 0.12, 0.075, 0.11, 0.13, 0.07, 0.1, 0.065, 0.09, 0.1, 0.066,
    0.085, 0.064, 0.1, 0.07, 0.09, 0.062, 0.095, 0.066, 0.088, 0.1, 0.064, 0.09, 0.065, 0.095, 0.07, 0.062, 0.1, 0.066, 0.09, 0.064,
    0.1, 0.068, 0.12, 0.07, 0.13, 0.075, 0.11, 0.07, 0.125, 0.072, 0.13, 0.08, 0.07, 0.12, 0.074, 0.13, 0.07, 0.115, 0.072, 0.13,
    0.075, 0.12, 0.07, 0.13, 0.078, 0.07, 0.12, 0.072, 0.13, 0.07, 0.11, 0.125, 0.072, 0.13, 0.075, 0.12, 0.07, 0.13, 0.072, 0.115,
    0.07, 0.13, 0.076, 0.12, 0.07, 0.125, 0.072, 0.13, 0.08, 0.07, 0.12, 0.074, 0.13, 0.07, 0.11, 0.072, 0.13, 0.075, 0.11,
  ]),
];

const pGt100: number[][] = [
  ...run(0, 0.75, [
    0.03, 0.022, 0.038, 0.025, 0.021, 0.035, 0.027, 0.04, 0.023, 0.032, 0.038, 0.022, 0.036, 0.026, 0.021, 0.039,
    0.028, 0.024, 0.04, 0.022, 0.034, 0.025, 0.038, 0.021, 0.03, 0.039, 0.023, 0.036, 0.027, 0.022, 0.04,
    0.024, 0.035, 0.021, 0.038, 0.028, 0.023, 0.04, 0.025, 0.034, 0.021, 0.037, 0.03, 0.022, 0.039, 0.026, 0.024, 0.036,
    0.021, 0.04, 0.028, 0.023, 0.035, 0.025, 0.038, 0.021, 0.032, 0.039, 0.022, 0.036, 0.027, 0.021, 0.04, 0.024, 0.034,
    0.022, 0.038, 0.03, 0.023, 0.04, 0.026, 0.021, 0.037, 0.025, 0.035, 0.022, 0.039, 0.028, 0.024, 0.036, 0.021, 0.038,
    0.027, 0.023, 0.04, 0.025, 0.033, 0.022, 0.037, 0.029, 0.021, 0.039, 0.024, 0.035, 0.022, 0.038, 0.026, 0.023, 0.03,
  ]),
  [74.5, 0.03], [75.8, 0.22], [77.4, 1.3], [80.1, 6.3], [82.3, 18.7], [84.5, 44], [86.7, 49], [87.8, 62], [89.4, 49], [92.7, 38],
  [95.9, 30], [99.2, 28.5], [102.5, 27], [105.2, 28.5], [107.9, 30], [111.2, 24], [114.5, 20], [116.7, 17.6], [118.3, 25], [120.5, 18.7],
  [123.2, 9.1], [125.4, 5.6], [128.7, 5.0], [131.9, 4.4], [135.2, 3.9], [138.5, 3.5], [141.7, 3.1], [145, 2.4], [148.3, 1.9], [151.6, 1.5],
  [154.8, 1.17], [157, 0.81], [160.3, 0.5], [163.6, 0.4], [166.1, 0.35], [168.2, 0.31], [171.5, 0.22], [174.8, 0.15], [178.1, 0.118], [180.2, 0.082],
  [182.4, 0.065], [183.5, 0.03], [184.5, 0.07], [185.5, 0.026], [186.5, 0.06], [187.5, 0.028], [188.4, 0.028], [210.8, 0.028],
  ...run(212, 0.75, [
    0.045, 0.02, 0.035, 0.05, 0.022, 0.04, 0.019, 0.048, 0.03, 0.021, 0.044, 0.02, 0.05, 0.025, 0.042,
    0.019, 0.046, 0.022, 0.035, 0.05, 0.021, 0.044, 0.02, 0.048, 0.028, 0.02, 0.045, 0.022, 0.04,
  ]),
  [234.2, 3.5], [235.9, 1.9], [238.1, 1.17], [240.2, 0.72], [242.4, 0.5], [245.7, 0.35], [249, 0.24],
  [252.2, 0.19], [255.5, 0.16], [257.7, 0.13], [259.9, 0.118],
  ...run(261, 0.75, [
    0.06, 0.025, 0.08, 0.035, 0.022, 0.07, 0.03, 0.02, 0.065, 0.028, 0.05, 0.024, 0.06, 0.02, 0.045, 0.03, 0.021, 0.05, 0.026, 0.04,
    0.02, 0.045, 0.022, 0.035, 0.05, 0.021, 0.04, 0.026, 0.02, 0.048, 0.023, 0.038, 0.02, 0.045, 0.028, 0.021, 0.05, 0.024, 0.04, 0.02,
    0.046, 0.022, 0.035, 0.052, 0.021, 0.04, 0.025, 0.02, 0.05, 0.023, 0.042, 0.021, 0.055, 0.026, 0.022, 0.048, 0.03, 0.02, 0.05, 0.024,
    0.04, 0.021, 0.055, 0.025, 0.022, 0.05, 0.028, 0.02, 0.052, 0.023, 0.044, 0.021, 0.055, 0.027, 0.022, 0.05, 0.024, 0.04, 0.021, 0.055,
    0.025, 0.022, 0.05, 0.03, 0.021, 0.054, 0.024, 0.045, 0.022, 0.055, 0.026, 0.021, 0.05, 0.023, 0.042, 0.02, 0.055, 0.025, 0.048, 0.022,
    0.045,
  ]),
];

// axis ticks
const xrayDecades = [1e-9, 1e-8, 1e-7, 1e-6, 1e-5, 1e-4, 1e-3];
const protonDecades = [1e-2, 1e-1, 1, 10, 100, 1e3, 1e4, 1e5, 1e6];
const protonLabelExps = [-2, 0, 2, 4, 6];
const flareLevels = [
  { v: 1e-4, name: "X Flare", color: "#9c9cf4" },
  { v: 1e-5, name: "M Flare", color: "#e690e6" },
  { v: 1e-6, name: "C Flare", color: "#8eec8e" },
];
const eventLevel = 10;

const FONT = "'Liberation Sans', Arial, Helvetica, sans-serif";
const W = 1910;
const H = 1304;

const rows = (pts: number[][]) => pts.map(([h, v]) => ({ h, v }));
const hourTicks = Array.from({ length: 57 }, (_, i) => i * 6);
const dayHours = dayLabels.map((_, i) => i * 24);
const withMinor = (decs: number[]) => {
  const out: number[] = [];
  decs.forEach((d, i) => {
    out.push(d);
    if (i < decs.length - 1) for (let m = 2; m <= 9; m++) out.push(d * m);
  });
  return out;
};
const xrayTicks = withMinor(xrayDecades);

const TimeTick = (props: any) => {
  const { x, y, payload, dir, showLabel } = props;
  const h = payload.value as number;
  const len = h % 12 === 0 ? 15 : 8;
  const isDay = h % 24 === 0;
  return (
    <g>
      <line x1={x} x2={x} y1={y} y2={y + dir * len} stroke="#7d7d7d" strokeWidth={2} />
      {showLabel && isDay && (
        <text transform={`translate(${x},${y - 17}) scale(0.5,1)`} textAnchor="middle" fontSize={43}
          fontFamily={FONT} fill="#000">
          {dayLabels[h / 24]}
        </text>
      )}
    </g>
  );
};

const LogTick = (props: any) => {
  const { x, y, payload, side, labelExps, lo, hi } = props;
  const v = payload.value as number;
  const lg = Math.log10(v);
  const e = Math.round(lg);
  const major = Math.abs(lg - e) < 1e-6;
  const out = side === "left" ? -1 : 1;
  const len = major ? 12 : 6;
  let label = null;
  if (side === "left" && major && labelExps.includes(e)) {
    const base = e === Math.round(Math.log10(hi)) ? y + 24 : e === Math.round(Math.log10(lo)) ? y : y + 13;
    label = (
      <text transform={`translate(${x - 53},${base}) scale(0.62,1)`} fontSize={32} fontFamily={FONT} fill="#000">
        10<tspan dy={-15} fontSize={16}>{e}</tspan>
      </text>
    );
  }
  return (
    <g>
      <line x1={x - out * 3} x2={x + out * len} y1={y} y2={y} stroke="#8a8a8a" strokeWidth={3} />
      {label}
    </g>
  );
};

const edgeLabel = (text: string, color: string, size: number) => (props: any) => {
  const vb = props.viewBox || {};
  const x = (vb.x ?? 0) + (vb.width ?? 0) + 8;
  const y = (vb.y ?? 0) - 5;
  return (
    <text transform={`translate(${x},${y}) scale(0.55,1)`} fontSize={size} fontFamily={FONT} fill={color}>
      {text}
    </text>
  );
};

const protonSeries = [
  { key: "p1", data: pGt1, color: "#000000" },
  { key: "p5", data: pGt5, color: "#ff0000" },
  { key: "p10", data: pGt10, color: "#00ff00" },
  { key: "p30", data: pGt30, color: "#d400d4" },
  { key: "p50", data: pGt50, color: "#0000ff" },
  { key: "p60", data: pGt60, color: "#993399" },
  { key: "p100", data: pGt100, color: "#12a8a8" },
];

const xrayTitle = [
  { t: "GOES-15 X-rays  1-min: XL(0.1-0.8 nm),  ", c: "#000000" },
  { t: "XS(0.05-0.4 nm)", c: "#ff0000" },
];

const protonTitle = [
  { t: "GOES-15 EPEAD Protons 5-min: pB(>1 MeV)c, ", c: "#000000" },
  { t: "pB(>5 MeV)c", c: "#ff0000" },
  { t: ",  ", c: "#000000" },
  { t: "pB(>10 MeV)c", c: "#00ee00" },
  { t: ",  ", c: "#000000" },
  { t: "pB(>30 MeV)c", c: "#d400d4" },
  { t: ",  ", c: "#000000" },
  { t: "pB(>50 MeV)c", c: "#0000ff" },
  { t: ",  ", c: "#000000" },
  { t: "pB(>60 MeV)c", c: "#993399" },
  { t: ",  ", c: "#000000" },
  { t: "pB(>100 MeV)c", c: "#12a8a8" },
  { t: "  B=West", c: "#000000" },
];

const layer: React.CSSProperties = { position: "absolute", left: 0, top: 0 };

const Title = ({ x, y, sx, parts }: { x: number; y: number; sx: number; parts: { t: string; c: string }[] }) => (
  <text transform={`translate(${x},${y}) scale(${sx},1)`} fontSize={44} fontFamily={FONT} style={{ whiteSpace: "pre" }}>
    {parts.map((s, i) => (
      <tspan key={i} fill={s.c}>{s.t}</tspan>
    ))}
  </text>
);

export default function App() {
  return (
    <div style={{ position: "absolute", left: 0, top: 0, width: W, height: H, background: "#fff", overflow: "hidden" }}>
      {/* X-ray panel */}
      <div style={layer}>
        <LineChart width={W} height={H} margin={{ top: 85, right: 36, bottom: 617, left: 66 }}>
          <XAxis xAxisId="t" type="number" dataKey="h" domain={[0, 336]} ticks={hourTicks} interval={0}
            orientation="top" height={30} tickSize={0} tickMargin={0} tickLine={false}
            axisLine={{ stroke: "#8a8a8a", strokeWidth: 3 }} allowDataOverflow
            tick={(p: any) => <TimeTick {...p} dir={1} showLabel />} />
          <XAxis xAxisId="b" type="number" dataKey="h" domain={[0, 336]} ticks={hourTicks} interval={0}
            orientation="bottom" height={1} tickSize={0} tickMargin={0} tickLine={false}
            axisLine={{ stroke: "#a8a8a8", strokeWidth: 3 }} allowDataOverflow
            tick={(p: any) => <TimeTick {...p} dir={-1} showLabel={false} />} />
          <YAxis yAxisId="l" scale="log" domain={[1e-9, 1e-3]} allowDataOverflow ticks={xrayTicks} interval={0}
            width={40} tickSize={0} tickMargin={0} tickLine={false} axisLine={{ stroke: "#b4b4b4", strokeWidth: 2 }}
            tick={(p: any) => <LogTick {...p} side="left" labelExps={[-9, -8, -7, -6, -5, -4, -3]} lo={1e-9} hi={1e-3} />} />
          <YAxis yAxisId="r" orientation="right" scale="log" domain={[1e-9, 1e-3]} allowDataOverflow ticks={xrayTicks} interval={0}
            width={40} tickSize={0} tickMargin={0} tickLine={false} axisLine={{ stroke: "#b4b4b4", strokeWidth: 2 }}
            tick={(p: any) => <LogTick {...p} side="right" labelExps={[]} lo={1e-9} hi={1e-3} />} />
          {dayHours.slice(1, -1).map((h) => (
            <ReferenceLine key={`d${h}`} xAxisId="t" yAxisId="l" x={h} stroke="#c6c6c6" strokeWidth={2} />
          ))}
          {xrayDecades.slice(1, -1).map((v) => (
            <ReferenceLine key={`g${v}`} xAxisId="t" yAxisId="l" y={v} stroke="#d2d2d2" strokeWidth={2} strokeDasharray="3 4" />
          ))}
          {flareLevels.map((f) => (
            <ReferenceLine key={f.name} xAxisId="t" yAxisId="l" y={f.v} stroke={f.color} strokeWidth={4}
              label={edgeLabel(f.name, "#000", 28)} />
          ))}
          <Line xAxisId="t" yAxisId="l" data={rows(xlLong)} dataKey="v" stroke="#000" strokeWidth={3}
            dot={false} isAnimationActive={false} type="linear" />
          <Line xAxisId="t" yAxisId="l" data={rows(xsShort)} dataKey="v" stroke="#ff0000" strokeWidth={2}
            dot={false} isAnimationActive={false} type="linear" />
        </LineChart>
      </div>

      {/* Proton panel */}
      <div style={layer}>
        <LineChart width={W} height={H} margin={{ top: 680, right: 36, bottom: 18, left: 66 }}>
          <XAxis xAxisId="t" type="number" dataKey="h" domain={[0, 336]} ticks={hourTicks} interval={0}
            orientation="top" height={30} tickSize={0} tickMargin={0} tickLine={false}
            axisLine={{ stroke: "#8a8a8a", strokeWidth: 3 }} allowDataOverflow
            tick={(p: any) => <TimeTick {...p} dir={1} showLabel={false} />} />
          <XAxis xAxisId="b" type="number" dataKey="h" domain={[0, 336]} ticks={hourTicks} interval={0}
            orientation="bottom" height={1} tickSize={0} tickMargin={0} tickLine={false}
            axisLine={{ stroke: "#8a8a8a", strokeWidth: 3 }} allowDataOverflow
            tick={(p: any) => <TimeTick {...p} dir={-1} showLabel={false} />} />
          <YAxis yAxisId="l" scale="log" domain={[1e-2, 1e6]} allowDataOverflow ticks={protonDecades} interval={0}
            width={40} tickSize={0} tickMargin={0} tickLine={false} axisLine={{ stroke: "#b4b4b4", strokeWidth: 2 }}
            tick={(p: any) => <LogTick {...p} side="left" labelExps={protonLabelExps} lo={1e-2} hi={1e6} />} />
          <YAxis yAxisId="r" orientation="right" scale="log" domain={[1e-2, 1e6]} allowDataOverflow ticks={protonDecades} interval={0}
            width={40} tickSize={0} tickMargin={0} tickLine={false} axisLine={{ stroke: "#b4b4b4", strokeWidth: 2 }}
            tick={(p: any) => <LogTick {...p} side="right" labelExps={[]} lo={1e-2} hi={1e6} />} />
          {dayHours.slice(1, -1).map((h) => (
            <ReferenceLine key={`d${h}`} xAxisId="t" yAxisId="l" x={h} stroke="#c6c6c6" strokeWidth={2} />
          ))}
          {[1, 100, 1e4].map((v) => (
            <ReferenceLine key={`g${v}`} xAxisId="t" yAxisId="l" y={v} stroke="#d2d2d2" strokeWidth={2} strokeDasharray="3 4" />
          ))}
          <ReferenceLine xAxisId="t" yAxisId="l" y={eventLevel} stroke="#a2a2f4" strokeWidth={4}
            label={edgeLabel("Event", "#22e022", 29)} />
          {protonSeries.map((s) => (
            <Line key={s.key} xAxisId="t" yAxisId="l" data={rows(s.data)} dataKey="v" stroke={s.color}
              strokeWidth={2.5} dot={false} isAnimationActive={false} type="linear" />
          ))}
        </LineChart>
      </div>

      {/* titles and axis names */}
      <svg width={W} height={H} style={{ ...layer, pointerEvents: "none" }}>
        <text transform="translate(47,55) scale(0.51,1)" fontSize={56} fontFamily={FONT} fill="#000">2012 Mar</text>
        <Title x={124} y={175} sx={0.563} parts={xrayTitle} />
        <Title x={126} y={766} sx={0.56} parts={protonTitle} />
        <text transform="translate(37,400) rotate(-90)" textAnchor="middle" fontSize={21} fontFamily={FONT}
          fill="#000" textLength={157} lengthAdjust="spacingAndGlyphs">Watts/m²</text>
        <text transform="translate(37,970) rotate(-90)" textAnchor="middle" fontSize={21} fontFamily={FONT}
          fill="#000" textLength={216} lengthAdjust="spacingAndGlyphs">p⁺/(cm² s sr)</text>
        <line x1={93} x2={1845} y1={1299} y2={1299} stroke="#8a8a8a" strokeWidth={3} />
        <text transform="translate(77,1327) scale(0.5,1)" textAnchor="middle" fontSize={43} fontFamily={FONT} fill="#000">00</text>
      </svg>
    </div>
  );
}
